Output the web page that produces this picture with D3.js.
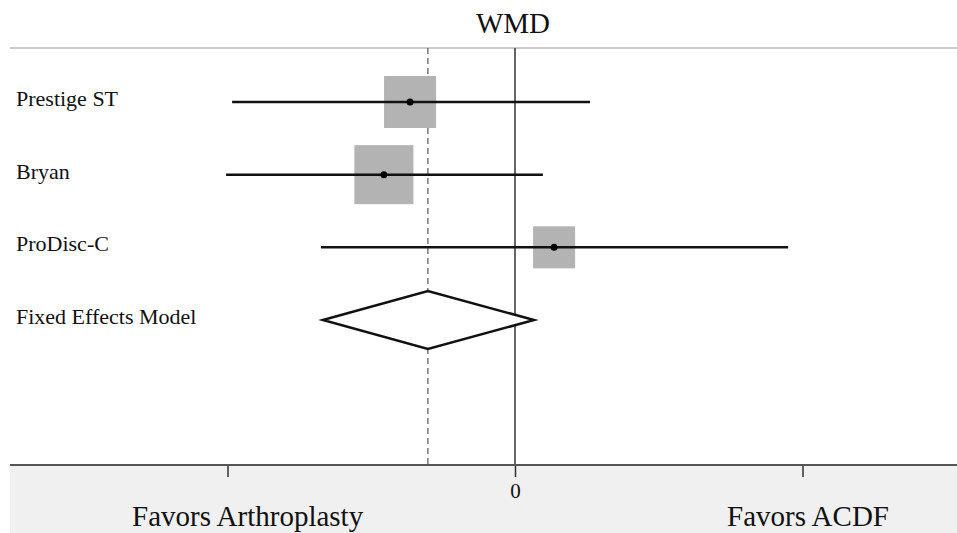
<!DOCTYPE html>
<html>
<head>
<meta charset="utf-8">
<script src="https://cdn.jsdelivr.net/npm/d3@7"></script>
<style>
  body { margin: 0; background: #fff; }
  svg text { font-family: "Liberation Serif", "Times New Roman", serif; fill: #111; }
</style>
</head>
<body>
<div id="chart"></div>
<script>
// study rows (values in WMD units, ticks at -1, 0, 1)
let studies  = ["Prestige ST", "Bryan", "ProDisc-C"];
let estimate = [-0.365, -0.456, 0.136];
let lower    = [-0.984, -1.005, -0.675];
let upper    = [0.261, 0.097, 0.950];
let weights  = [34.0, 43.8, 22.2];

let pooledLabel = "Fixed Effects Model";
let pooled = {est: -0.303, lo: -0.668, hi: 0.066};

let tickValues = [-1, 0, 1];
let favorLeft = "Favors Arthroplasty";
let favorRight = "Favors ACDF";

let width = 957, height = 533;
let plotTop = 48, plotBottom = 465, left = 10;

let svg = d3.select("#chart").append("svg")
    .attr("width", width)
    .attr("height", height);

let x = d3.scaleLinear()
    .domain([-1, 1])
    .range([227.5, 802.5]);

let y = d3.scaleLinear()
    .domain([0, 3])
    .range([102, 320]);

let boxSize = d3.scaleSqrt()
    .domain([0, 100])
    .range([0, 89.2]);

// bottom panel
svg.append("rect")
    .attr("x", left)
    .attr("y", plotBottom)
    .attr("width", width - left)
    .attr("height", height - plotBottom)
    .attr("fill", "#f0f0f0");

// title + top rule
svg.append("text")
    .attr("x", x(0) - 2)
    .attr("y", 33)
    .attr("text-anchor", "middle")
    .attr("font-size", "29px")
    .text("WMD");

svg.append("line")
    .attr("x1", left).attr("x2", width)
    .attr("y1", plotTop).attr("y2", plotTop)
    .attr("stroke", "#cccccc")
    .attr("stroke-width", 2);

// reference lines
svg.append("line")
    .attr("x1", x(pooled.est)).attr("x2", x(pooled.est))
    .attr("y1", plotTop).attr("y2", plotBottom)
    .attr("stroke", "#777")
    .attr("stroke-width", 1.5)
    .attr("stroke-dasharray", "6,4");

svg.append("line")
    .attr("x1", x(0)).attr("x2", x(0))
    .attr("y1", plotTop).attr("y2", plotBottom)
    .attr("stroke", "#333")
    .attr("stroke-width", 1.5);

// axis
let axis = d3.axisBottom(x)
    .tickValues(tickValues)
    .tickSize(12)
    .tickPadding(6)
    .tickFormat(d => d === 0 ? "0" : "");

let gAxis = svg.append("g")
    .attr("transform", `translate(0, ${plotBottom})`)
    .call(axis);
gAxis.select(".domain").remove();
gAxis.selectAll(".tick line").attr("stroke", "#333").attr("stroke-width", 1.5);
gAxis.selectAll(".tick text")
    .attr("font-family", "Liberation Serif, serif")
    .attr("font-size", "21px")
    .attr("fill", "#111");

svg.append("line")
    .attr("x1", left).attr("x2", width)
    .attr("y1", plotBottom).attr("y2", plotBottom)
    .attr("stroke", "#555")
    .attr("stroke-width", 2);

svg.append("text")
    .attr("x", 132).attr("y", 526)
    .attr("font-size", "29px")
    .text(favorLeft);

svg.append("text")
    .attr("x", 727).attr("y", 526)
    .attr("font-size", "29px")
    .text(favorRight);

// study rows
let rows = svg.selectAll(".study")
    .data(studies)
    .enter().append("g")
    .attr("class", "study");

rows.append("rect")
    .attr("x", (d, i) => x(estimate[i]) - boxSize(weights[i]) / 2)
    .attr("y", (d, i) => y(i) - boxSize(weights[i]) / 2)
    .attr("width", (d, i) => boxSize(weights[i]))
    .attr("height", (d, i) => boxSize(weights[i]))
    .attr("fill", "#b3b3b3");

rows.append("line")
    .attr("x1", (d, i) => x(lower[i]))
    .attr("x2", (d, i) => x(upper[i]))
    .attr("y1", (d, i) => y(i))
    .attr("y2", (d, i) => y(i))
    .attr("stroke", "#111")
    .attr("stroke-width", 2.5);

rows.append("circle")
    .attr("cx", (d, i) => x(estimate[i]))
    .attr("cy", (d, i) => y(i))
    .attr("r", 3.5)
    .attr("fill", "#000");

rows.append("text")
    .attr("x", 16)
    .attr("y", (d, i) => y(i) + 4)
    .attr("font-size", "22px")
    .text(d => d);

// pooled diamond
let yp = y(3), hh = 29;
svg.append("path")
    .attr("d", `M${x(pooled.lo)},${yp} L${x(pooled.est)},${yp - hh} L${x(pooled.hi)},${yp} L${x(pooled.est)},${yp + hh} Z`)
    .attr("fill", "#fff")
    .attr("stroke", "#111")
    .attr("stroke-width", 2.5);

svg.append("text")
    .attr("x", 16)
    .attr("y", yp + 4)
    .attr("font-size", "22px")
    .text(pooledLabel);
</script>
</body>
</html>
